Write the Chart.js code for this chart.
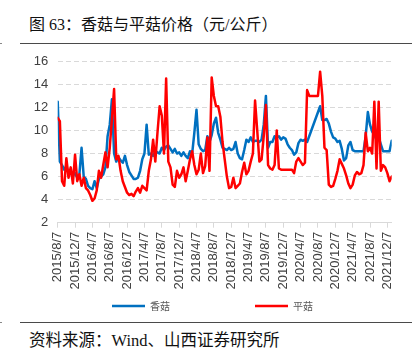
<!DOCTYPE html>
<html>
<head>
<meta charset="utf-8">
<script src="https://cdn.jsdelivr.net/npm/chart.js@4.4.1/dist/chart.umd.min.js"></script>
<style>
  html, body { margin: 0; padding: 0; background: #fff; }
  #wrap { position: relative; width: 415px; height: 352px; overflow: hidden; background: #fff; }
  #title { position: absolute; left: 29px; top: 15px; font-size: 16px; line-height: 20px; color: #111;
           font-family: "Liberation Serif", "Noto Sans CJK SC", serif; white-space: nowrap; }
  #source { position: absolute; left: 29px; top: 331px; font-size: 16.5px; line-height: 20px; color: #111;
            font-family: "Liberation Serif", "Noto Sans CJK SC", serif; white-space: nowrap; }
  .rule { position: absolute; left: 20px; width: 392px; height: 1px; background: #4a4a4a; }
  .nub { position: absolute; left: 0; width: 2px; height: 1px; background: #888; }
  #chartBox { position: absolute; left: 0; top: 44px; width: 415px; height: 276px; }
</style>
</head>
<body>
<div id="wrap">
  <div id="title">图 63：香菇与平菇价格（元/公斤）</div>
  <div class="rule" style="top:43px"></div>
  <div class="nub" style="top:43px"></div>
  <div id="chartBox"><canvas id="c"></canvas></div>
  <div class="rule" style="top:322px"></div>
  <div class="nub" style="top:322px"></div>
  <div id="source">资料来源：Wind、山西证券研究所</div>
</div>
<script>
// x-axis tick labels (every 4 months starting 2015/8/7)
const tickLabels = ['2015/8/7','2015/12/7','2016/4/7','2016/8/7','2016/12/7','2017/4/7','2017/8/7','2017/12/7',
  '2018/4/7','2018/8/7','2018/12/7','2019/4/7','2019/8/7','2019/12/7','2020/4/7','2020/8/7','2020/12/7',
  '2021/4/7','2021/8/7','2021/12/7'];
const tickMonths = [0,4,8,12,16,20,24,28,32,36,40,44,48,52,56,60,64,68,72,76];
const seriesNames = ['香菇', '平菇'];

// Half-monthly readings starting 2015/8/7 (yuan/kg)
const shiitake = [
  12.5,7.3,7.0,6.6,6.9,6.3,6.5,6.1,6.3,5.9,
  6.2,8.5,6.0,5.8,5.2,5.0,4.9,5.6,5.0,5.8,
  6.0,6.2,6.8,9.5,10.5,12.7,8.0,7.3,7.7,7.4,
  7.2,7.8,7.0,6.4,6.1,5.8,5.8,5.9,6.5,7.5,
  8.0,10.5,7.9,8.0,7.8,8.2,8.1,8.0,8.5,8.3,
  8.6,8.7,8.4,8.1,8.4,8.0,8.1,7.8,8.1,7.8,
  7.6,8.2,8.0,9.8,11.8,8.8,8.4,8.2,8.3,9.5,
  9.0,9.6,10.6,11.1,9.8,9.2,8.5,8.4,8.3,8.5,
  8.3,8.4,9.0,8.0,7.6,7.5,8.3,9.2,9.0,9.4,
  9.0,9.1,9.1,9.0,9.2,10.5,13.0,8.5,9.0,9.0,
  9.5,9.4,9.5,9.2,9.4,9.3,8.8,8.5,8.3,7.9,
  8.1,8.9,9.2,9.1,9.2,9.0,null,null,null,null,
  null,12.1,10.9,10.9,11.0,10.6,9.9,9.4,9.3,9.0,
  9.1,8.4,7.4,7.6,8.7,9.0,8.3,8.2,8.2,8.2,
  8.2,8.2,9.5,11.6,10.5,9.9,9.6,9.2,9.4,8.8,
  8.2,8.2,8.2,8.2,9.1
];
const oyster = [
  11.1,10.8,5.6,5.2,7.6,5.9,6.8,5.4,7.9,5.6,
  6.2,5.2,5.9,5.0,4.8,4.4,3.9,4.1,4.8,6.5,
  5.9,7.0,8.1,6.8,8.5,11.0,13.6,7.5,7.8,6.5,
  5.6,5.1,4.6,4.4,4.5,4.3,4.7,5.0,4.6,5.2,
  5.0,4.8,6.5,7.5,9.2,7.3,9.8,12.1,11.3,8.0,
  14.5,7.3,6.8,5.3,5.1,6.5,5.9,6.2,6.8,5.6,
  6.5,7.5,8.2,7.0,6.2,6.6,8.0,6.3,6.9,9.4,
  6.5,14.6,13.0,12.1,12.1,11.2,9.0,7.5,6.0,5.0,
  5.1,5.9,5.0,5.2,5.4,6.4,7.2,6.2,6.5,7.3,
  8.0,12.6,10.0,7.3,7.5,9.5,12.2,7.0,6.7,6.6,
  7.0,10.0,6.7,6.6,6.6,6.6,6.6,6.6,6.6,6.3,
  7.3,7.6,7.3,7.0,7.2,13.5,13.0,13.0,13.0,13.0,
  13.0,15.1,13.0,8.5,8.3,5.3,5.1,5.2,5.8,6.5,
  7.5,7.1,6.7,6.1,5.4,5.0,5.3,6.1,6.4,6.2,
  6.3,7.0,9.8,8.2,8.5,8.0,12.5,6.7,12.5,6.5,
  7.0,6.8,6.3,5.6,6.0
];
const stepMonths = 0.5;
const toPoints = arr => arr.map((v, i) => ({ x: i * stepMonths, y: v }));

const BLUE = '#0070C0';
const RED = '#FF0000';
const AXIS_GRAY = '#d9d9d9';
const LABEL = '#404040';

const legendPlugin = {
  id: 'lineLegend',
  afterDraw(chart) {
    const ctx = chart.ctx;
    const y = 262;
    const starts = [112, 255];
    ctx.save();
    chart.data.datasets.slice().sort((a,b)=>a.legendIndex-b.legendIndex).forEach((ds, k) => {
      const x = starts[k];
      ctx.strokeStyle = ds.borderColor;
      ctx.lineWidth = 2.6;
      ctx.beginPath();
      ctx.moveTo(x, y);
      ctx.lineTo(x + 33, y);
      ctx.stroke();
      ctx.fillStyle = '#595959';
      ctx.font = '10px "Noto Sans CJK SC"';
      ctx.textBaseline = 'middle';
      ctx.textAlign = 'left';
      ctx.fillText(ds.label, x + 38, y);
    });
    ctx.restore();
  }
};

new Chart(document.getElementById('c'), {
  type: 'line',
  data: {
    datasets: [
      { label: seriesNames[1], legendIndex: 1, data: toPoints(oyster), borderColor: RED, backgroundColor: RED,
        borderWidth: 2.5, pointRadius: 0, tension: 0, spanGaps: true, order: 0,
        borderJoinStyle: 'round', borderCapStyle: 'round' },
      { label: seriesNames[0], legendIndex: 0, data: toPoints(shiitake), borderColor: BLUE, backgroundColor: BLUE,
        borderWidth: 2.5, pointRadius: 0, tension: 0, spanGaps: true, order: 1,
        borderJoinStyle: 'round', borderCapStyle: 'round' }
    ]
  },
  options: {
    responsive: true,
    maintainAspectRatio: false,
    animation: false,
    events: [],
    layout: { padding: { top: 12.7, right: 23.3, left: 0, bottom: 0 } },
    plugins: { legend: { display: false }, tooltip: { enabled: false }, title: { display: false } },
    scales: {
      x: {
        type: 'linear',
        min: 0,
        max: 77,
        afterBuildTicks: s => { s.ticks = tickMonths.map(v => ({ value: v })); },
        afterFit: s => { s.height = 97.3; },
        ticks: {
          autoSkip: false,
          minRotation: 90,
          maxRotation: 90,
          padding: 4,
          color: LABEL,
          font: { family: '"Liberation Sans", Arial', size: 13 },
          callback: (v, i) => tickLabels[i]
        },
        grid: { drawOnChartArea: false, drawTicks: true, tickLength: 5, color: AXIS_GRAY, lineWidth: 1 },
        border: { display: true, color: AXIS_GRAY, width: 1 }
      },
      y: {
        min: 2,
        max: 16,
        afterFit: s => { s.width = 57.7; },
        ticks: {
          stepSize: 2,
          padding: 9.5,
          color: LABEL,
          font: { family: '"Liberation Sans", Arial', size: 13 }
        },
        grid: { drawTicks: false, color: AXIS_GRAY, lineWidth: 1 },
        border: { display: false, dash: [5, 3] }
      }
    }
  },
  plugins: [legendPlugin]
});
</script>
</body>
</html>
